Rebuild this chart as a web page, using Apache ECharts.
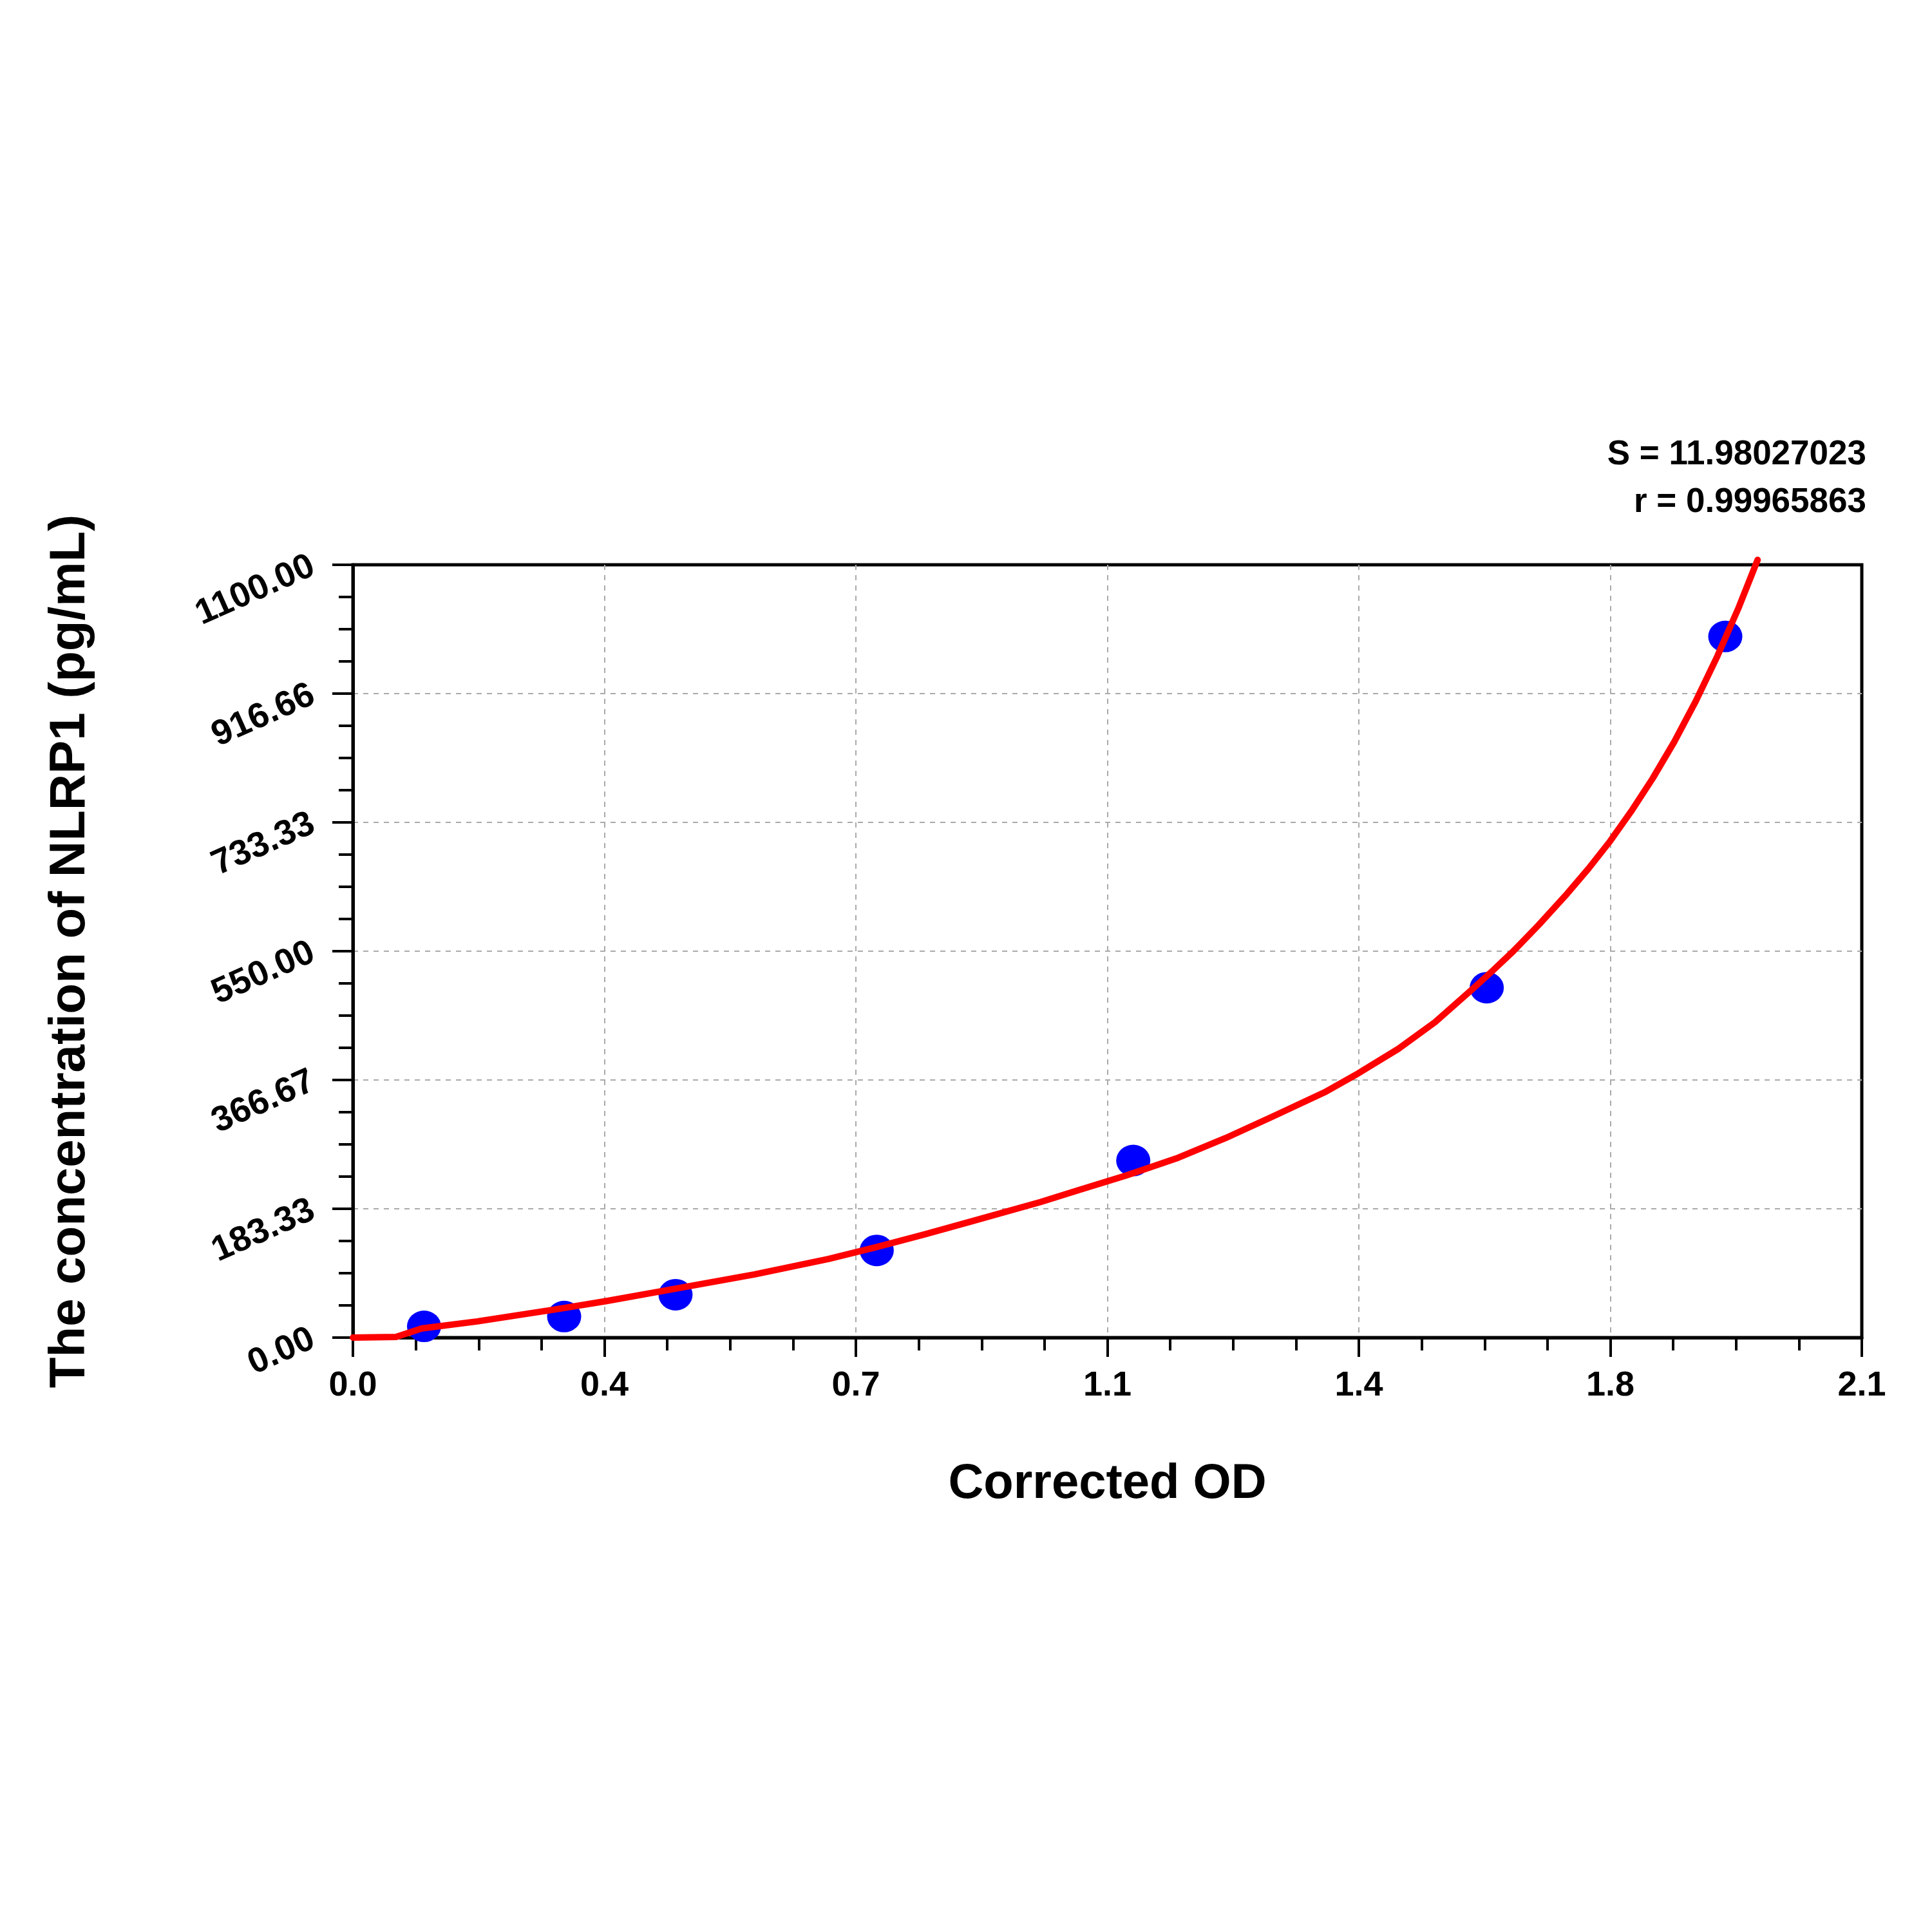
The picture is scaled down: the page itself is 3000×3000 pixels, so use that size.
<!DOCTYPE html>
<html>
<head>
<meta charset="utf-8">
<script src="https://cdn.jsdelivr.net/npm/echarts@6/dist/echarts.min.js"></script>
<style>
  html, body { margin: 0; background: #fff; }
  #chart { width: 3000px; height: 3000px; }
</style>
</head>
<body>
<div id="chart"></div>
<script>
// standards (blue dots)
const standardOD = [0.099, 0.294, 0.449, 0.729, 1.086, 1.578, 1.910];
const standardConc = [16, 30, 61, 124, 252, 498, 998];

// fitted curve
const curveOD = [0, 0.06, 0.096, 0.173, 0.281, 0.353, 0.451, 0.559, 0.662, 0.729, 0.796, 0.863, 0.957, 1.01, 1.077, 1.146, 1.2145, 1.283, 1.352, 1.399, 1.455, 1.506, 1.558, 1.585, 1.615, 1.65, 1.69, 1.72, 1.75, 1.779, 1.809, 1.839, 1.869, 1.899, 1.929, 1.955];
const curveConc = [0, 1, 13, 23, 40, 52, 70, 90, 112, 129, 147, 166, 193, 210, 231, 255, 284, 316, 349, 376, 411, 449, 496, 521, 550, 587, 632, 668, 707, 749, 796, 848, 906, 970, 1040, 1107];

const xTickLabels = ['0.0', '0.4', '0.7', '1.1', '1.4', '1.8', '2.1'];
const yTickLabels = ['0.00', '183.33', '366.67', '550.00', '733.33', '916.66', '1100.00'];

const statS = 'S = 11.98027023';
const statR = 'r = 0.99965863';

const font = '"Liberation Sans", Arial, sans-serif';
const xStep = 0.35;
const yStep = 1100 / 6;

const chart = echarts.init(document.getElementById('chart'));

const option = {
  backgroundColor: '#fff',
  animation: false,
  grid: {
    left: 548, right: 109, top: 877, bottom: 923,
    containLabel: false,
    outerBoundsMode: 'none',
    show: true,
    borderColor: '#000',
    borderWidth: 5
  },
  graphic: [
    {
      type: 'text', right: 102, top: 680,
      style: { text: statS, font: 'bold 53px ' + font, fill: '#000', textAlign: 'right' }
    },
    {
      type: 'text', right: 102, top: 754,
      style: { text: statR, font: 'bold 53px ' + font, fill: '#000', textAlign: 'right' }
    }
  ],
  xAxis: {
    type: 'value',
    min: 0, max: 2.1, interval: xStep,
    name: 'Corrected OD',
    nameLocation: 'middle',
    nameGap: 190,
    nameTextStyle: { fontFamily: font, fontWeight: 'bold', fontSize: 76, color: '#000' },
    axisLine: { onZero: false, lineStyle: { color: '#000', width: 5 } },
    axisTick: { show: true, length: 30, lineStyle: { color: '#000', width: 4 } },
    minorTick: { show: true, splitNumber: 4, length: 20, lineStyle: { color: '#000', width: 4 } },
    axisLabel: {
      margin: 48,
      fontFamily: font, fontWeight: 'bold', fontSize: 54, color: '#000',
      formatter: v => xTickLabels[Math.round(v / xStep)]
    },
    splitLine: { show: true, showMinLine: false, showMaxLine: false, lineStyle: { color: '#aaa', width: 2, type: [8, 8] } }
  },
  yAxis: {
    type: 'value',
    min: 0, max: 1100, interval: yStep,
    name: 'The concentration of NLRP1 (pg/mL)',
    nameLocation: 'middle',
    nameGap: 400,
    nameTextStyle: { fontFamily: font, fontWeight: 'bold', fontSize: 78, color: '#000' },
    axisLine: { onZero: false, lineStyle: { color: '#000', width: 5 } },
    axisTick: { show: true, length: 32, lineStyle: { color: '#000', width: 4 } },
    minorTick: { show: true, splitNumber: 4, length: 22, lineStyle: { color: '#000', width: 4 } },
    axisLabel: {
      margin: 62,
      rotate: 24,
      fontFamily: font, fontWeight: 'bold', fontSize: 55, color: '#000',
      formatter: v => yTickLabels[Math.round(v / yStep)]
    },
    splitLine: { show: true, showMinLine: false, showMaxLine: false, lineStyle: { color: '#aaa', width: 2, type: [8, 8] } }
  },
  series: [
    {
      type: 'scatter',
      data: standardOD.map((x, i) => [x, standardConc[i]]),
      symbol: 'circle',
      symbolSize: [53, 49],
      itemStyle: { color: '#0000ff', opacity: 1 },
      z: 2
    },
    {
      type: 'line',
      data: curveOD.map((x, i) => [x, curveConc[i]]),
      showSymbol: false,
      smooth: false,
      clip: false,
      lineStyle: { color: '#ff0000', width: 10, join: 'round', cap: 'round' },
      z: 3
    }
  ]
};

chart.setOption(option);
</script>
</body>
</html>
